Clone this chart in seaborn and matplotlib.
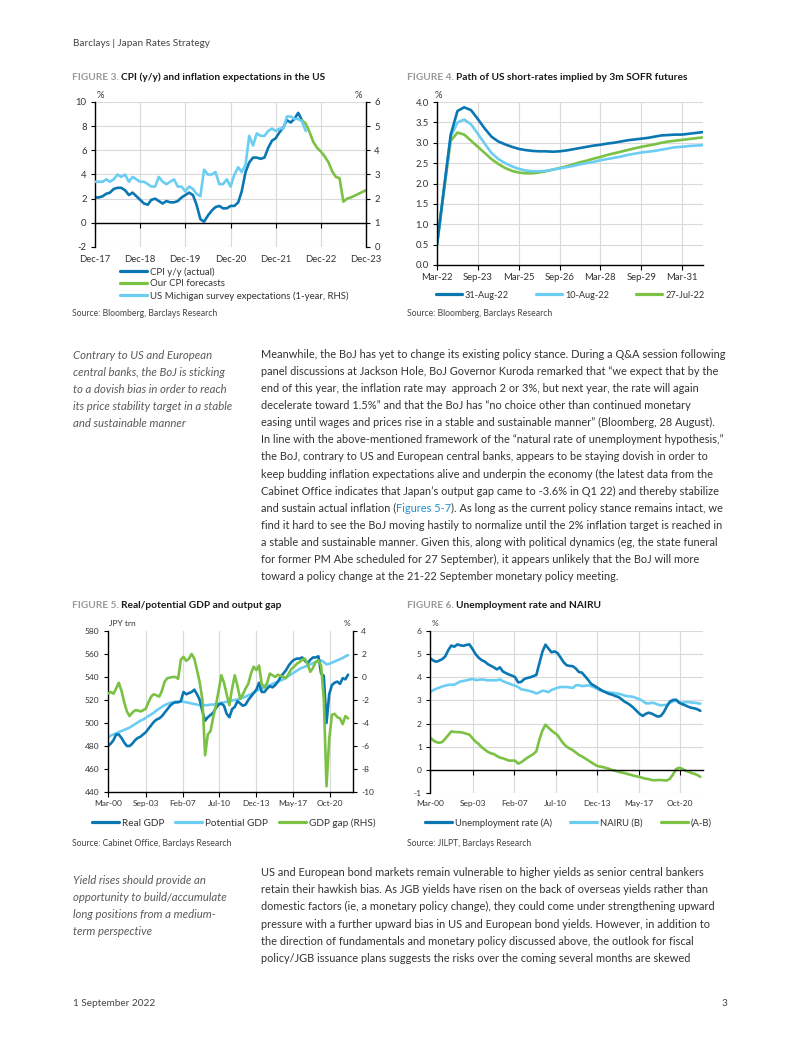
import matplotlib
matplotlib.use("Agg")
import matplotlib.pyplot as plt
from matplotlib.lines import Line2D
from matplotlib.ticker import FormatStrFormatter
import seaborn as sns
import pandas as pd
import numpy as np

# ---------------- DATA ----------------
# Figure 3: CPI (monthly)
cpi_start = "2017-12-01"
cpi_actual = [2.1, 2.1, 2.2, 2.4, 2.5, 2.8, 2.9, 2.9, 2.7, 2.3, 2.5, 2.2, 1.9,
              1.6, 1.5, 1.9, 2.0, 1.8, 1.6, 1.8, 1.7, 1.7, 1.8, 2.1, 2.3,
              2.5, 2.3, 1.5, 0.3, 0.1, 0.6, 1.0, 1.3, 1.4, 1.2, 1.2, 1.4,
              1.4, 1.7, 2.6, 4.2, 5.0, 5.4, 5.4, 5.3, 5.4, 6.2, 6.8, 7.0,
              7.5, 7.9, 8.5, 8.3, 8.6, 9.1, 8.5]
forecast_start = "2022-07-01"
cpi_forecast = [8.5, 8.2, 7.5, 6.7, 6.2, 5.9, 5.5, 5.0, 4.3, 3.8, 3.7, 1.75,
                2.0, 2.1, 2.25, 2.4, 2.55, 2.7]
michigan = [2.7,
            2.7, 2.7, 2.8, 2.7, 2.8, 3.0, 2.9, 3.0, 2.7, 2.9, 2.8, 2.7,
            2.7, 2.6, 2.5, 2.5, 2.9, 2.7, 2.6, 2.7, 2.8, 2.5, 2.5, 2.3,
            2.5, 2.4, 2.2, 2.1, 3.2, 3.0, 3.0, 3.1, 2.6, 2.6, 2.8, 2.5,
            3.0, 3.3, 3.1, 3.4, 4.6, 4.2, 4.7, 4.6, 4.6, 4.8, 4.9, 4.8,
            4.9, 4.9, 5.4, 5.4, 5.3, 5.3, 5.2, 4.8]
fig3_ticks = ["2017-12-01", "2018-12-01", "2019-12-01", "2020-12-01",
              "2021-12-01", "2022-12-01", "2023-12-01"]
fig3_ticklabels = ["Dec-17", "Dec-18", "Dec-19", "Dec-20", "Dec-21", "Dec-22", "Dec-23"]

# Figure 4: SOFR implied path (quarterly)
sofr_start = "2022-03-01"
sofr_31aug = [0.5, 1.85, 3.2, 3.78, 3.87, 3.8, 3.58, 3.35, 3.15, 3.03,
              2.96, 2.9, 2.85, 2.82, 2.8, 2.79, 2.79, 2.78, 2.79, 2.81,
              2.84, 2.87, 2.9, 2.93, 2.95, 2.98, 3.0, 3.03, 3.06, 3.08,
              3.1, 3.12, 3.15, 3.18, 3.19, 3.2, 3.2, 3.22, 3.24, 3.26]
sofr_10aug = [0.5, 1.85, 3.15, 3.5, 3.57, 3.45, 3.22, 2.98, 2.75, 2.6,
              2.5, 2.42, 2.36, 2.32, 2.3, 2.3, 2.31, 2.34, 2.37, 2.4,
              2.43, 2.47, 2.5, 2.53, 2.57, 2.6, 2.63, 2.66, 2.7, 2.73,
              2.76, 2.78, 2.8, 2.83, 2.86, 2.89, 2.9, 2.92, 2.93, 2.94]
sofr_27jul = [0.5, 1.8, 3.05, 3.25, 3.2, 3.05, 2.9, 2.75, 2.6, 2.48,
              2.38, 2.31, 2.27, 2.25, 2.25, 2.27, 2.3, 2.34, 2.38, 2.42,
              2.47, 2.52, 2.56, 2.61, 2.65, 2.7, 2.74, 2.78, 2.82, 2.86,
              2.9, 2.93, 2.96, 3.0, 3.03, 3.05, 3.07, 3.09, 3.11, 3.13]
fig4_ticks = ["2022-03-01", "2023-09-01", "2025-03-01", "2026-09-01",
              "2028-03-01", "2029-09-01", "2031-03-01"]
fig4_ticklabels = ["Mar-22", "Sep-23", "Mar-25", "Sep-26", "Mar-28", "Sep-29", "Mar-31"]

# Figures 5 & 6: Japan (quarterly, Q1-2000 .. Q2-2022)
q_start = "2000-03-01"
real_gdp = [480, 482, 485, 490, 490, 487, 483, 480, 480, 482, 485, 487,
            488, 490, 492, 495, 498, 501, 503, 504, 506, 509, 512, 515,
            517, 518, 518, 519, 527, 525, 526, 527, 529, 525, 520, 510,
            502, 505, 507, 509, 513, 516, 517, 515, 508, 505, 512, 514,
            519, 517, 515, 516, 520, 523, 526, 529, 535, 527, 527, 530,
            532, 531, 533, 536, 540, 543, 546, 550, 553, 555, 556, 556,
            557, 554, 552, 555, 557, 557, 558, 543, 541, 500, 525, 533,
            535, 536, 534, 539, 538, 542]
potential_gdp = [488, 489, 490, 491, 492, 493, 494, 495, 496, 497.5, 499, 500.5,
                 502, 503, 504.5, 506, 507.5, 509, 511, 512.5, 514, 515.5, 516.5, 517.5,
                 518, 518.5, 518.5, 518.5, 518.5, 518, 517.5, 517,
                 516.5, 516, 515.5, 515.5, 515.5, 515.5, 516, 516,
                 516.5, 517, 517.5, 518, 518.5, 519, 519.5, 520,
                 520.5, 521, 522, 523, 524, 525, 526.5, 528,
                 529, 530, 531, 532, 533, 534, 535, 536,
                 537, 538, 539.5, 541, 542.5, 544, 545.5, 547,
                 548, 549, 550, 551, 552, 553, 554, 554.5,
                 553, 551, 551.5, 552.5, 553.5, 554.5, 555.5, 556.5, 558, 559]
gdp_gap = [-1.45, -1.3, -1.45, -1.0, -0.5, -1.2, -2.2, -3.0, -3.4, -3.1,
           -2.9, -2.9, -3.0, -2.9, -2.75, -2.2, -1.7, -1.5, -1.6, -1.7,
           -1.2, -0.4, -0.1, -0.05, 0.0, 0.0, -0.15, 1.5, 1.75, 1.4,
           1.6, 2.0, 1.6, 0.6, -0.5, -2.0, -6.8, -5.0, -4.7, -3.5,
           -2.5, -1.2, 0.15, -0.5, -1.5, -2.45, -1.0, 0.15, -0.8, -1.9,
           -1.5, -1.0, -0.6, 0.3, 0.9, 0.6, 1.0, -0.6, -0.9, -0.5,
           0.3, 0.15, 0.0, 0.2, 0.1, 0.0, -0.1, 0.3, 0.7, 0.9,
           1.15, 1.3, 1.5, 1.6, 1.1, 0.45, 0.8, 1.3, 1.45, 1.0,
           -1.9, -9.5, -5.4, -3.3, -3.2, -3.5, -3.6, -4.1, -3.4, -3.6]
unemployment = [4.83, 4.73, 4.67, 4.72, 4.78, 4.9, 5.17, 5.37, 5.32, 5.42,
                5.38, 5.36, 5.4, 5.42, 5.22, 5.0, 4.85, 4.74, 4.68, 4.57,
                4.5, 4.43, 4.34, 4.43, 4.25, 4.18, 4.12, 4.07, 4.01, 3.78,
                3.8, 3.92, 3.97, 4.0, 4.05, 4.1, 4.6, 5.1, 5.41, 5.24,
                5.08, 5.12, 5.04, 4.85, 4.65, 4.52, 4.49, 4.48, 4.38, 4.23,
                4.2, 4.05, 3.9, 3.72, 3.64, 3.56, 3.48, 3.4, 3.34, 3.28,
                3.25, 3.19, 3.15, 3.06, 2.95, 2.88, 2.79, 2.68, 2.55, 2.42,
                2.33, 2.42, 2.47, 2.43, 2.36, 2.3, 2.33, 2.5, 2.75, 2.95,
                3.02, 3.03, 2.9, 2.84, 2.79, 2.73, 2.68, 2.66, 2.62, 2.55]
nairu = [3.36, 3.44, 3.5, 3.55, 3.6, 3.64, 3.67, 3.68, 3.68, 3.75,
         3.82, 3.84, 3.87, 3.9, 3.93, 3.88, 3.89, 3.91, 3.89, 3.87,
         3.87, 3.87, 3.87, 3.91, 3.83, 3.78, 3.73, 3.68, 3.64, 3.58,
         3.48, 3.46, 3.43, 3.4, 3.36, 3.3, 3.35, 3.42, 3.4, 3.36,
         3.45, 3.5, 3.55, 3.58, 3.58, 3.58, 3.56, 3.54, 3.65, 3.66,
         3.62, 3.63, 3.65, 3.62, 3.57, 3.5, 3.43, 3.4, 3.37, 3.35,
         3.33, 3.31, 3.29, 3.26, 3.21, 3.18, 3.17, 3.15, 3.1, 3.05,
         2.98, 2.88, 2.87, 2.9, 2.88, 2.82, 2.79, 2.8, 2.81, 2.9,
         2.96, 3.0, 2.95, 2.9, 2.92, 2.93, 2.91, 2.9, 2.88, 2.86]
unemp_gap = [1.41, 1.28, 1.2, 1.17, 1.2, 1.34, 1.5, 1.66, 1.64, 1.63,
             1.63, 1.6, 1.56, 1.52, 1.36, 1.22, 1.12, 0.98, 0.88, 0.78,
             0.72, 0.68, 0.6, 0.53, 0.5, 0.45, 0.4, 0.4, 0.4, 0.27,
             0.33, 0.42, 0.52, 0.6, 0.68, 0.8, 1.3, 1.7, 1.95, 1.82,
             1.7, 1.6, 1.5, 1.3, 1.13, 1.0, 0.92, 0.85, 0.75, 0.65,
             0.58, 0.5, 0.42, 0.33, 0.25, 0.17, 0.14, 0.12, 0.08, 0.04,
             -0.01, -0.04, -0.08, -0.11, -0.14, -0.18, -0.21, -0.25, -0.28, -0.31,
             -0.35, -0.38, -0.4, -0.44, -0.45, -0.44, -0.44, -0.45, -0.46, -0.38,
             -0.2, 0.03, 0.09, 0.05, -0.03, -0.08, -0.13, -0.17, -0.22, -0.3]
jp_ticks = ["2000-03-01", "2003-09-01", "2007-02-01", "2010-07-01",
            "2013-12-01", "2017-05-01", "2020-10-01"]
jp_ticklabels = ["Mar-00", "Sep-03", "Feb-07", "Jul-10", "Dec-13", "May-17", "Oct-20"]

# ---------------- TEXT ----------------
header = "Barclays | Japan Rates Strategy"
footer_date = "1 September 2022"
page_no = "3"
side1 = ["Contrary to US and European", "central banks, the BoJ is sticking",
         "to a dovish bias in order to reach", "its price stability target in a stable",
         "and sustainable manner"]
body1 = [
    "Meanwhile, the BoJ has yet to change its existing policy stance. During a Q&A session following",
    "panel discussions at Jackson Hole, BoJ Governor Kuroda remarked that \u201cwe expect that by the",
    "end of this year, the inflation rate may  approach 2 or 3%, but next year, the rate will again",
    "decelerate toward 1.5%\u201d and that the BoJ has \u201cno choice other than continued monetary",
    "easing until wages and prices rise in a stable and sustainable manner\u201d (Bloomberg, 28 August).",
    "In line with the above-mentioned framework of the \u201cnatural rate of unemployment hypothesis,\u201d",
    "the BoJ, contrary to US and European central banks, appears to be staying dovish in order to",
    "keep budding inflation expectations alive and underpin the economy (the latest data from the",
    "Cabinet Office indicates that Japan\u2019s output gap came to -3.6% in Q1 22) and thereby stabilize",
    [("and sustain actual inflation (", 0), ("Figures 5-7", 1),
     ("). As long as the current policy stance remains intact, we", 0)],
    "find it hard to see the BoJ moving hastily to normalize until the 2% inflation target is reached in",
    "a stable and sustainable manner. Given this, along with political dynamics (eg, the state funeral",
    "for former PM Abe scheduled for 27 September), it appears unlikely that the BoJ will more",
    "toward a policy change at the 21-22 September monetary policy meeting.",
]
side2 = ["Yield rises should provide an", "opportunity to build/accumulate",
         "long positions from a medium-", "term perspective"]
body2 = [
    "US and European bond markets remain vulnerable to higher yields as senior central bankers",
    "retain their hawkish bias. As JGB yields have risen on the back of overseas yields rather than",
    "domestic factors (ie, a monetary policy change), they could come under strengthening upward",
    "pressure with a further upward bias in US and European bond yields. However, in addition to",
    "the direction of fundamentals and monetary policy discussed above, the outlook for fiscal",
    "policy/JGB issuance plans suggests the risks over the coming several months are skewed",
]

# ---------------- STYLE ----------------
DARK = "#0a77b3"
LIGHT = "#6ccdf3"
GREEN = "#7bc143"
GRID = "#d9d9d9"
TXT = "#333333"
GREYT = "#9a9a9a"
LINKC = "#1f8fd0"
LW = 1.9

sns.set_theme(style="white")
plt.rcParams["font.family"] = ["Lato", "DejaVu Sans"]
plt.rcParams["axes.unicode_minus"] = False

W, H = 802, 1037
fig = plt.figure(figsize=(W / 100, H / 100), dpi=100)
fig.patch.set_facecolor("white")
renderer = fig.canvas.get_renderer()


def tw(s, size, **kw):
    t = fig.text(0, 0, s, fontsize=size, **kw)
    w = t.get_window_extent(renderer=renderer).width
    t.remove()
    return w


def fit(s, target, **kw):
    return 10.0 * target / tw(s, 10.0, **kw)


def ftext(x, y, s, size, **kw):
    kw.setdefault("va", "center")
    return fig.text(x / W, 1 - y / H, s, fontsize=size, **kw)


def rich(x, y, parts, size, colors, **kw):
    prefix = ""
    base = tw("I", size, **kw)
    for s, ci in parts:
        off = (tw(prefix + "I", size, **kw) - base) if prefix else 0.0
        fig.text((x + off) / W, 1 - y / H, s, fontsize=size, color=colors[ci],
                 va="baseline", **kw)
        prefix += s


def add_axes(l, t, r, b):
    ax = fig.add_axes([l / W, 1 - b / H, (r - l) / W, (b - t) / H])
    ax.set_facecolor("none")
    for s in ax.spines.values():
        s.set_visible(False)
    return ax


def spine(ax, name, lw=1.0):
    ax.spines[name].set_visible(True)
    ax.spines[name].set_color("black")
    ax.spines[name].set_linewidth(lw)


def legend(entries, x, y, fs, handle_px, pad_px, col_px, ncol, loc="center left", rowsp=None):
    fpx = fs * 100 / 72
    handles = [Line2D([], [], color=c, lw=2.3) for c, _ in entries]
    labels = [l for _, l in entries]
    kw = {}
    if rowsp is not None:
        kw["labelspacing"] = rowsp / fpx
    fig.legend(handles, labels, loc=loc, bbox_to_anchor=(x / W, 1 - y / H), ncol=ncol,
               frameon=False, fontsize=fs, handlelength=handle_px / fpx,
               handletextpad=pad_px / fpx, columnspacing=col_px / fpx,
               borderpad=0, borderaxespad=0, labelcolor=TXT, **kw)


fs_tick_a = fit("Dec-17", 28) * 1.12
fs_tick_b = fit("Mar-00", 24) * 1.15
fs_title = fit("FIGURE 3. CPI (y/y) and inflation expectations in the US", 253, weight="bold")
fs_src = fit("Source: Bloomberg, Barclays Research", 145)
fs_body = fit(body1[0], 461)
fs_side = fit(side1[3], 160, style="italic")
fs_head = fit(header, 135)

# ---------------- HEADER / FOOTER ----------------
ftext(73, 43, header, fs_head, color="#444444")
ftext(73, 1004, footer_date, fs_head, color="#444444")
ftext(727, 1004, page_no, fs_head, color="#444444", ha="right")


def title(x, y, num, rest):
    rich(x, y + 3.5, [(num + " ", 0), (rest, 1)], fs_title, [GREYT, "#1a1a1a"], weight="bold")


title(72, 76, "FIGURE 3.", "CPI (y/y) and inflation expectations in the US")
title(407, 76, "FIGURE 4.", "Path of US short-rates implied by 3m SOFR futures")
title(72, 605, "FIGURE 5.", "Real/potential GDP and output gap")
title(407, 605, "FIGURE 6.", "Unemployment rate and NAIRU")

# ---------------- FIGURE 3 ----------------
ax3 = add_axes(95, 102, 366, 247)
ax3r = ax3.twinx()
ax3r.set_facecolor("none")
for s in ax3r.spines.values():
    s.set_visible(False)
df_a = pd.DataFrame({"date": pd.date_range(cpi_start, periods=len(cpi_actual), freq="MS"),
                     "v": cpi_actual})
df_f = pd.DataFrame({"date": pd.date_range(forecast_start, periods=len(cpi_forecast), freq="MS"),
                     "v": cpi_forecast})
df_m = pd.DataFrame({"date": pd.date_range(cpi_start, periods=len(michigan), freq="MS"),
                     "v": michigan})
sns.lineplot(data=df_a, x="date", y="v", ax=ax3, color=DARK, lw=LW)
sns.lineplot(data=df_f, x="date", y="v", ax=ax3, color=GREEN, lw=LW)
sns.lineplot(data=df_m, x="date", y="v", ax=ax3r, color=LIGHT, lw=LW)
t3 = pd.to_datetime(fig3_ticks)
for a in (ax3, ax3r):
    a.set_xlabel("")
    a.set_ylabel("")
ax3.set_xlim(t3[0], t3[-1])
ax3.set_ylim(-2, 10)
ax3.set_yticks(range(-2, 11, 2))
ax3r.set_ylim(0, 6)
ax3r.set_yticks(range(0, 7))
ax3.set_xticks(t3)
ax3.set_xticklabels(fig3_ticklabels)
ax3.set_axisbelow(True)
ax3.grid(True, color=GRID, lw=0.8)
spine(ax3, "left")
spine(ax3, "bottom")
ax3.spines["bottom"].set_position(("data", 0))
spine(ax3r, "right")
ax3.tick_params(axis="x", bottom=True, length=3.5, width=0.8, color="black",
                labelsize=fs_tick_a, labelcolor=TXT, pad=20.0)
ax3.tick_params(axis="y", left=True, length=3, width=0.8, color="black",
                labelsize=fs_tick_a, labelcolor=TXT, pad=3)
ax3r.tick_params(axis="y", right=True, left=False, length=3, width=0.8, color="black",
                 labelsize=fs_tick_a, labelcolor=TXT, pad=3)
ftext(97, 96, "%", fs_tick_a, color=TXT)
ftext(355, 96, "%", fs_tick_a, color=TXT)

fs_leg3 = fit("US Michigan survey expectations (1-year, RHS)", 200)
legend([(DARK, "CPI y/y (actual)"), (GREEN, "Our CPI forecasts"),
        (LIGHT, "US Michigan survey expectations (1-year, RHS)")],
       120, 267, fs_leg3, 27, 3, 10, 1, loc="upper left", rowsp=2.8)
ftext(72, 314, "Source: Bloomberg, Barclays Research", fs_src, color="#444444")

# ---------------- FIGURE 4 ----------------
ax4 = add_axes(437, 102, 703, 265)
sd = pd.date_range(sofr_start, periods=len(sofr_31aug), freq="3MS")
df4 = pd.DataFrame({"date": np.tile(sd, 3),
                    "v": sofr_31aug + sofr_10aug + sofr_27jul,
                    "s": ["31-Aug-22"] * len(sd) + ["10-Aug-22"] * len(sd) + ["27-Jul-22"] * len(sd)})
sns.lineplot(data=df4, x="date", y="v", hue="s", ax=ax4,
             palette={"31-Aug-22": DARK, "10-Aug-22": LIGHT, "27-Jul-22": GREEN},
             hue_order=["27-Jul-22", "10-Aug-22", "31-Aug-22"], lw=LW, legend=False)
t4 = pd.to_datetime(fig4_ticks)
ax4.set_xlabel("")
ax4.set_ylabel("")
ax4.set_xlim(t4[0], pd.Timestamp("2031-12-10"))
ax4.set_ylim(0, 4)
ax4.set_yticks(np.arange(0, 4.01, 0.5))
ax4.yaxis.set_major_formatter(FormatStrFormatter("%.1f"))
ax4.set_xticks(t4)
ax4.set_xticklabels(fig4_ticklabels)
ax4.set_axisbelow(True)
ax4.grid(True, color=GRID, lw=0.8)
spine(ax4, "left")
spine(ax4, "bottom")
ax4.tick_params(axis="x", bottom=True, length=3.5, width=0.8, color="black",
                labelsize=fs_tick_a, labelcolor=TXT, pad=2.5)
ax4.tick_params(axis="y", left=True, length=3, width=0.8, color="black",
                labelsize=fs_tick_a, labelcolor=TXT, pad=3)
ftext(435, 95, "%", fs_tick_a, color=TXT)
fs_leg4 = fit("31-Aug-22", 44)
legend([(DARK, "31-Aug-22"), (LIGHT, "10-Aug-22"), (GREEN, "27-Jul-22")],
       436, 295, fs_leg4, 26, 3, 27, 3)
ftext(407, 314, "Source: Bloomberg, Barclays Research", fs_src, color="#444444")

# ---------------- FIGURE 5 ----------------
qd = pd.date_range(q_start, periods=len(real_gdp), freq="3MS")
tj = pd.to_datetime(jp_ticks)
ax5 = add_axes(108, 631, 353, 792)
ax5r = ax5.twinx()
ax5r.set_facecolor("none")
for s in ax5r.spines.values():
    s.set_visible(False)
df5 = pd.DataFrame({"date": qd, "real": real_gdp, "pot": potential_gdp, "gap": gdp_gap})
sns.lineplot(data=df5, x="date", y="pot", ax=ax5, color=LIGHT, lw=LW)
sns.lineplot(data=df5, x="date", y="real", ax=ax5, color=DARK, lw=LW)
sns.lineplot(data=df5, x="date", y="gap", ax=ax5r, color=GREEN, lw=LW)
for a in (ax5, ax5r):
    a.set_xlabel("")
    a.set_ylabel("")
ax5.set_xlim(tj[0], pd.Timestamp("2022-11-15"))
ax5.set_ylim(440, 580)
ax5.set_yticks(range(440, 581, 20))
ax5r.set_ylim(-10, 4)
ax5r.set_yticks(range(-10, 5, 2))
ax5.set_xticks(tj)
ax5.set_xticklabels(jp_ticklabels)
ax5.set_axisbelow(True)
ax5.grid(True, axis="x", color=GRID, lw=0.8)
spine(ax5, "left")
spine(ax5, "bottom")
spine(ax5r, "right")
ax5.tick_params(axis="x", bottom=True, length=3.5, width=0.8, color="black",
                labelsize=fs_tick_b, labelcolor=TXT, pad=2.5)
ax5.tick_params(axis="y", left=True, length=3, width=0.8, color="black",
                labelsize=fs_tick_b, labelcolor=TXT, pad=3)
ax5r.tick_params(axis="y", right=True, left=False, length=3, width=0.8, color="black",
                 labelsize=fs_tick_b, labelcolor=TXT, pad=3)
ftext(109, 624, "JPY trn", fs_tick_b, color=TXT)
ftext(344, 624, "%", fs_tick_b, color=TXT)
fs_leg5 = fit("Potential GDP", 63)
legend([(DARK, "Real GDP"), (LIGHT, "Potential GDP"), (GREEN, "GDP gap (RHS)")],
       92, 823, fs_leg5, 27, 3, 11, 3)
ftext(72, 843, "Source: Cabinet Office, Barclays Research", fs_src, color="#444444")

# ---------------- FIGURE 6 ----------------
ax6 = add_axes(430, 631, 703, 793)
df6 = pd.DataFrame({"date": qd, "u": unemployment, "n": nairu, "g": unemp_gap})
sns.lineplot(data=df6, x="date", y="n", ax=ax6, color=LIGHT, lw=LW)
sns.lineplot(data=df6, x="date", y="u", ax=ax6, color=DARK, lw=LW)
sns.lineplot(data=df6, x="date", y="g", ax=ax6, color=GREEN, lw=LW)
ax6.set_xlabel("")
ax6.set_ylabel("")
ax6.set_xlim(tj[0], pd.Timestamp("2022-08-20"))
ax6.set_ylim(-1, 6)
ax6.set_yticks(range(-1, 7))
ax6.set_xticks(tj)
ax6.set_xticklabels(jp_ticklabels)
ax6.set_axisbelow(True)
ax6.grid(True, color=GRID, lw=0.8)
spine(ax6, "left")
spine(ax6, "bottom")
ax6.spines["bottom"].set_position(("data", 0))
ax6.tick_params(axis="x", bottom=True, length=3.5, width=0.8, color="black",
                labelsize=fs_tick_b, labelcolor=TXT, pad=18.5)
ax6.tick_params(axis="y", left=True, length=3, width=0.8, color="black",
                labelsize=fs_tick_b, labelcolor=TXT, pad=3)
ftext(432, 624, "%", fs_tick_b, color=TXT)
fs_leg6 = fit("Unemployment rate (A)", 98)
legend([(DARK, "Unemployment rate (A)"), (LIGHT, "NAIRU (B)"), (GREEN, "(A-B)")],
       425, 823, fs_leg6, 27, 3, 18, 3)
ftext(407, 843, "Source: JILPT, Barclays Research", fs_src, color="#444444")

# ---------------- BODY TEXT ----------------
fpx_body = fs_body * 100 / 72
for i, s in enumerate(side1):
    ftext(73, 355 + i * 17.1, s, fs_side, color="#5a5a5a", style="italic")
for i, line in enumerate(body1):
    y = 354 + i * 17.08
    if isinstance(line, list):
        rich(261, y + 0.36 * fpx_body, line, fs_body, [TXT, LINKC])
    else:
        fig.text(261 / W, 1 - (y + 0.36 * fpx_body) / H, line, fontsize=fs_body,
                 color=TXT, va="baseline")
for i, s in enumerate(side2):
    ftext(73, 880 + i * 17.2, s, fs_side, color="#5a5a5a", style="italic")
for i, line in enumerate(body2):
    y = 872 + i * 17.2
    fig.text(261 / W, 1 - (y + 0.36 * fpx_body) / H, line, fontsize=fs_body,
             color=TXT, va="baseline")

fig.savefig("out.png", dpi=100, facecolor="white")
